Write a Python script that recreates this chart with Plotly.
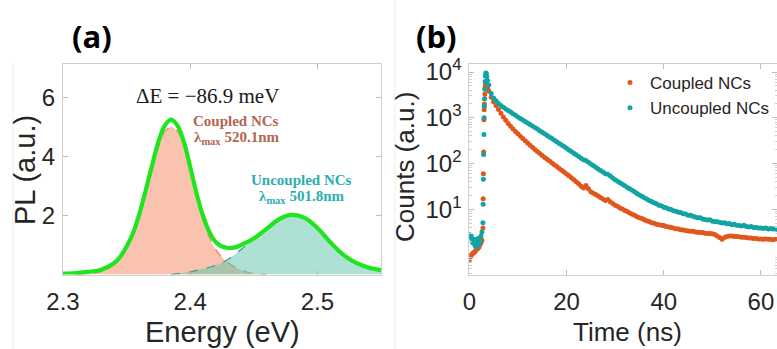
import plotly.graph_objects as go

# ---------------- (a) PL spectrum ----------------
energy_total = [2.300, 2.310, 2.320, 2.330, 2.340, 2.345, 2.350, 2.355, 2.360, 2.365,
                2.370, 2.375, 2.380, 2.385, 2.390, 2.395, 2.400, 2.405, 2.410, 2.415,
                2.420, 2.425, 2.430, 2.435, 2.440, 2.450, 2.460, 2.470, 2.480, 2.490,
                2.500, 2.510, 2.520, 2.530, 2.540, 2.550]
pl_total = [0.03, 0.05, 0.09, 0.16, 0.38, 0.60, 0.95, 1.40, 2.05, 2.85,
            3.70, 4.50, 5.05, 5.25, 5.05, 4.50, 3.65, 2.75, 2.00, 1.45,
            1.10, 0.95, 0.90, 0.92, 1.00, 1.22, 1.55, 1.88, 2.02, 1.92,
            1.58, 1.10, 0.68, 0.40, 0.24, 0.15]

energy_coupled = [2.310, 2.320, 2.330, 2.340, 2.350, 2.360, 2.370, 2.380, 2.385, 2.390,
                  2.400, 2.410, 2.420, 2.430, 2.440, 2.450, 2.460]
pl_coupled = [0.0, 0.03, 0.10, 0.35, 0.90, 2.00, 3.55, 4.85, 5.00, 4.85,
              3.60, 1.85, 0.85, 0.40, 0.15, 0.03, 0.0]

energy_uncoupled = [2.385, 2.390, 2.400, 2.410, 2.420, 2.430, 2.440, 2.450, 2.460, 2.470,
                    2.480, 2.490, 2.500, 2.510, 2.520, 2.530, 2.540, 2.550]
pl_uncoupled = [0.0, 0.03, 0.09, 0.19, 0.31, 0.52, 0.85, 1.20, 1.52, 1.86,
                2.00, 1.90, 1.55, 1.08, 0.66, 0.38, 0.22, 0.14]

# ---------------- (b) time-resolved PL ----------------
time_rise_coupled = [0.0, 0.2, 0.4, 0.6, 0.8, 1.0, 1.2, 1.4, 1.6, 1.8, 2.0, 2.2, 2.4, 2.6,
                     2.80, 2.85, 2.90, 2.95, 3.00, 3.05, 3.10, 3.15, 3.20, 3.25, 3.30,
                     3.40, 3.50, 3.60, 3.75]
counts_rise_coupled = [0.78, 0.9, 1.0, 1.05, 1.1, 1.15, 1.2, 1.3, 1.35, 1.4, 1.5, 1.7, 1.85, 2.1,
                       3.9, 17, 60, 178, 900, 1500, 2000, 2600, 3300, 4500, 5300,
                       5600, 5500, 5000, 4400]

time_rise_uncoupled = [0.0, 0.2, 0.4, 0.6, 0.8, 1.0, 1.2, 1.4, 1.6, 1.8, 2.0, 2.2, 2.4, 2.6,
                       2.80, 2.85, 2.90, 2.95, 3.00, 3.05, 3.10, 3.15, 3.20, 3.25, 3.30,
                       3.40, 3.50, 3.60, 3.75]
counts_rise_uncoupled = [2.8, 2.4, 2.6, 2.0, 1.8, 2.2, 1.6, 1.9, 1.5, 2.3, 1.7, 2.0, 2.6, 3.2,
                         5.1, 12.9, 45, 158, 430, 1000, 1780, 2600, 4200, 6200, 8200,
                         9500, 9300, 8000, 6500]

time_decay = [4.0, 4.5, 5.0, 5.5, 6.0, 6.5, 7.0, 7.5, 8.0, 8.5,
              9.0, 9.5, 10.0, 10.5, 11.0, 11.5, 12.0, 12.5, 13.0, 13.5,
              14.0, 14.5, 15.0, 15.5, 16.0, 16.5, 17.0, 17.5, 18.0, 18.5,
              19.0, 19.5, 20.0, 20.5, 21.0, 21.5, 22.0, 22.5, 23.0, 23.5,
              24.0, 24.5, 25.0, 25.5, 26.0, 26.5, 27.0, 27.5, 28.0, 28.5,
              29.0, 29.5, 30.0, 30.5, 31.0, 31.5, 32.0, 32.5, 33.0, 33.5,
              34.0, 34.5, 35.0, 35.5, 36.0, 36.5, 37.0, 37.5, 38.0, 38.5,
              39.0, 39.5, 40.0, 40.5, 41.0, 41.5, 42.0, 42.5, 43.0, 43.5,
              44.0, 44.5, 45.0, 45.5, 46.0, 46.5, 47.0, 47.5, 48.0, 48.5,
              49.0, 49.5, 50.0, 50.5, 51.0, 51.5, 52.0, 52.5, 53.0, 53.5,
              54.0, 54.5, 55.0, 55.5, 56.0, 56.5, 57.0, 57.5, 58.0, 58.5,
              59.0, 59.5, 60.0, 60.5, 61.0, 61.5, 62.0, 62.5, 63.0, 63.5]

counts_decay_coupled = [3900, 2800, 2250, 1850, 1520, 1250, 1040, 880, 750, 650,
                        565, 500, 445, 395, 352, 315, 282, 252, 226, 203,
                        183, 165, 150, 136, 124, 113, 103, 94, 86, 78,
                        71, 65, 59, 54, 49, 44, 40, 36, 32, 29,
                        33, 28, 24, 22.5, 21, 19.6, 18.1, 16.8, 15.6, 16.3,
                        14.6, 13.4, 12.3, 11.6, 10.7, 10.1, 9.4, 8.9, 8.3, 7.8,
                        7.4, 6.9, 6.5, 6.3, 5.9, 5.6, 5.4, 5.1, 4.95, 4.7,
                        4.6, 4.5, 4.4, 4.2, 4.1, 4.0, 3.9, 3.75, 3.7, 3.55,
                        3.5, 3.45, 3.35, 3.3, 3.3, 3.2, 3.15, 3.1, 3.1, 3.0,
                        2.95, 2.95, 2.9, 2.8, 2.6, 2.4, 2.2, 2.4, 2.55, 2.6,
                        2.6, 2.55, 2.55, 2.5, 2.45, 2.45, 2.4, 2.35, 2.35, 2.3,
                        2.3, 2.25, 2.25, 2.2, 2.25, 2.2, 2.2, 2.15, 2.2, 2.15]

counts_decay_uncoupled = [5200, 3400, 2700, 2350, 2050, 1850, 1700, 1560, 1440, 1330,
                          1230, 1130, 1040, 960, 890, 825, 765, 710, 660, 610,
                          565, 520, 480, 445, 410, 378, 350, 322, 298, 275,
                          254, 234, 216, 198, 183, 168, 155, 142, 131, 121,
                          116, 106, 97, 90, 83, 76, 70, 65, 60, 58,
                          53, 48, 44, 41, 38, 35, 32.5, 30, 28, 26,
                          24, 22, 20.5, 19.2, 17.8, 16.8, 15.6, 14.8, 13.8, 13.2,
                          12.3, 11.9, 11.1, 10.8, 10.1, 9.9, 9.3, 9.1, 8.6, 8.5,
                          8.0, 7.9, 7.4, 7.4, 7.0, 6.8, 6.5, 6.5, 6.1, 6.0,
                          5.8, 5.9, 5.5, 5.4, 5.3, 5.2, 5.0, 5.1, 4.8, 4.9,
                          4.6, 4.7, 4.5, 4.4, 4.3, 4.5, 4.2, 4.1, 4.2, 4.0,
                          4.0, 3.9, 3.9, 3.8, 3.9, 3.7, 3.8, 3.7, 3.7, 3.6]

tick_energy = [2.3, 2.4, 2.5]
tick_pl = [2, 4, 6]
tick_time = [0, 20, 40, 60]
tick_counts = [10, 100, 1000, 10000]
tick_counts_text = ["10<sup>1</sup>", "10<sup>2</sup>", "10<sup>3</sup>", "10<sup>4</sup>"]

W, H = 777, 349
ORANGE = "#e0561c"
TEAL = "#12a3a3"
AXIS = "#262626"
FRAME = "#cfcfcf"

fig = go.Figure()

# (a) components first, total fit on top
fig.add_trace(go.Scatter(
    x=energy_coupled, y=pl_coupled, mode="lines", line_shape="spline",
    line=dict(color="#ef7f52", width=1.2, dash="dash"),
    fill="tozeroy", fillcolor="rgba(245,135,95,0.5)",
    xaxis="x", yaxis="y", showlegend=False, hoverinfo="skip"))
fig.add_trace(go.Scatter(
    x=energy_uncoupled, y=pl_uncoupled, mode="lines", line_shape="spline",
    line=dict(color="#3a9c88", width=1.2, dash="dash"),
    fill="tozeroy", fillcolor="rgba(89,195,167,0.5)",
    xaxis="x", yaxis="y", showlegend=False, hoverinfo="skip"))
fig.add_trace(go.Scatter(
    x=energy_total, y=pl_total, mode="lines", line_shape="spline",
    line=dict(color="#1ee61e", width=4.2),
    xaxis="x", yaxis="y", showlegend=False))

# (b) decay curves
fig.add_trace(go.Scatter(
    x=time_rise_coupled + time_decay, y=counts_rise_coupled + counts_decay_coupled,
    mode="markers", marker=dict(color=ORANGE, size=5),
    name="Coupled NCs", xaxis="x2", yaxis="y2"))
fig.add_trace(go.Scatter(
    x=time_rise_uncoupled + time_decay, y=counts_rise_uncoupled + counts_decay_uncoupled,
    mode="markers", marker=dict(color=TEAL, size=5),
    name="Uncoupled NCs", xaxis="x2", yaxis="y2"))

ydom = [1 - 274.5 / H, 1 - 64 / H]
common = dict(showline=True, linecolor=FRAME, linewidth=1, mirror="ticks",
              ticks="inside", ticklen=5, tickcolor="#bdbdbd", showgrid=False,
              zeroline=False, automargin=False,
              tickfont=dict(family="Liberation Sans", size=24, color=AXIS))
xcommon = dict(common, ticklabelstandoff=6)
ycommon = dict(common, ticklabelstandoff=2)

minor_counts = [m * 10 ** e for e in range(-1, 4) for m in range(2, 10)]

fig.update_layout(
    width=W, height=H, margin=dict(l=0, r=0, t=0, b=0, autoexpand=False),
    paper_bgcolor="white", plot_bgcolor="white",
    xaxis=dict(domain=[63 / W, 381 / W], range=[2.3, 2.55], tickvals=tick_energy,
               tickformat=".1f", anchor="y", **xcommon),
    yaxis=dict(domain=ydom, range=[0, 7.14], tickvals=tick_pl, anchor="x", **ycommon),
    xaxis2=dict(domain=[469.3 / W, 1.0], range=[0, 63.3], tickvals=tick_time,
                anchor="y2", **xcommon),
    yaxis2=dict(domain=ydom, type="log", range=[-0.426, 4.175], tickvals=tick_counts,
                ticktext=tick_counts_text, anchor="x2",
                minor=dict(tickvals=minor_counts, ticks="inside", ticklen=2.5,
                           tickcolor="#cfcfcf"),
                **ycommon),
    legend=dict(x=610 / W, y=1 - 65 / H, xanchor="left", yanchor="top",
                bgcolor="rgba(0,0,0,0)", font=dict(family="Liberation Sans", size=17, color=AXIS),
                tracegroupgap=0),
    showlegend=True,
)

def px(xp, yp):
    return xp / W, 1 - yp / H

ann = []
def add_text(text, xp, yp, size, family="Liberation Sans", color=AXIS, angle=0, bold=False):
    x, y = px(xp, yp)
    if bold:
        text = "<b>" + text + "</b>"
    ann.append(dict(text=text, x=x, y=y, xref="paper", yref="paper",
                    xanchor="center", yanchor="middle", showarrow=False,
                    textangle=angle, font=dict(family=family, size=size, color=color)))

add_text("(a)", 92, 36, 31, family="Open Sans", color="black", bold=True)
add_text("(b)", 436, 36, 31, family="Open Sans", color="black", bold=True)
add_text("PL (a.u.)", 25, 170, 29, angle=-90)
add_text("Energy (eV)", 222, 332, 29)
add_text("Counts (a.u.)", 405, 167, 26, angle=-90)
add_text("Time (ns)", 627, 332, 26)
add_text("ΔE = −86.9 meV", 207, 96, 21, family="Liberation Serif", color="#1a1a1a")
add_text("Coupled NCs", 236, 121, 15, family="Liberation Serif", color="#b5654f", bold=True)
add_text("λ<sub>max</sub> 520.1nm", 236, 138, 15, family="Liberation Serif", color="#b5654f", bold=True)
add_text("Uncoupled NCs", 301, 180, 15, family="Liberation Serif", color="#2aafaf", bold=True)
add_text("λ<sub>max</sub> 501.8nm", 301, 197, 15, family="Liberation Serif", color="#2aafaf", bold=True)
fig.update_layout(annotations=ann)

# faint panel borders
fig.update_layout(shapes=[
    dict(type="line", xref="paper", yref="paper", x0=13 / W, x1=13 / W, y0=0, y1=1 - 63 / H,
         line=dict(color="#ededed", width=1)),
    dict(type="line", xref="paper", yref="paper", x0=395 / W, x1=395 / W, y0=0, y1=1,
         line=dict(color="#ededed", width=1)),
])

fig.write_html("out.html")
